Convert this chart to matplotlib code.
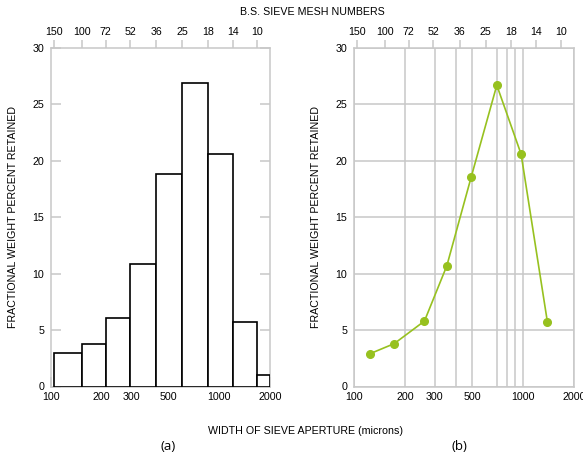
import numpy as np
import matplotlib.pyplot as plt

plt.rcParams['font.family'] = ['Liberation Sans', 'DejaVu Sans']

# sieve data
mesh_labels = ['150', '100', '72', '52', '36', '25', '18', '14', '10']
mesh_aperture = [104, 152, 211, 295, 422, 600, 853, 1200, 1676]
bin_edges = [104, 152, 211, 295, 422, 600, 853, 1200, 1676, 2000]
bar_heights = [3.0, 3.8, 6.1, 10.9, 18.8, 26.9, 20.6, 5.7, 1.0]
point_x = [124, 173, 261, 354, 494, 699, 973, 1393]
point_y = [2.9, 3.8, 5.8, 10.7, 18.6, 26.7, 20.6, 5.7]
x_ticks = [100, 200, 300, 400, 500, 700, 800, 900, 1000, 2000]
x_labels = ['100', '200', '300', '', '500', '', '', '', '1000', '2000']
y_ticks = [0, 5, 10, 15, 20, 25, 30]

gray = '#c8c8c8'
green = '#97c11f'
fs = 7.7

fig = plt.figure(figsize=(5.83, 4.57), dpi=100)
ax1 = fig.add_axes([51/583, 1-386.5/457, 219/583, 338.5/457])
ax2 = fig.add_axes([354/583, 1-386.5/457, 220/583, 338.5/457])


def setup(ax, grid):
    ax.set_xscale('log')
    ax.set_xlim(100, 2000)
    ax.set_ylim(0, 30)
    for s in ax.spines.values():
        s.set_color(gray)
        s.set_linewidth(1.1)
    ax.set_xticks(x_ticks)
    ax.set_xticklabels(x_labels)
    ax.xaxis.set_minor_locator(plt.NullLocator())
    ax.set_yticks(y_ticks)
    if grid:
        ax.tick_params(axis='x', length=0, labelsize=fs, pad=4)
        ax.tick_params(axis='y', length=0, labelsize=fs, pad=5)
        ax.grid(axis='both', color=gray, lw=1.1)
        ax.set_axisbelow(True)
    else:
        ax.tick_params(axis='x', direction='in', top=True, bottom=True,
                       length=7, color=gray, width=1.1, labelsize=fs, pad=4)
        ax.tick_params(axis='y', direction='in', left=True, right=True,
                       length=7, color=gray, width=1.1, labelsize=fs, pad=5)
    ax.set_ylabel('FRACTIONAL WEIGHT PERCENT RETAINED', fontsize=fs)
    ax.yaxis.set_label_coords(-0.15, 0.5)

    # top axis with mesh numbers
    top = ax.twiny()
    top.set_xscale('log')
    top.set_xlim(100, 2000)
    top.set_xticks(mesh_aperture)
    top.set_xticklabels(mesh_labels)
    top.xaxis.set_minor_locator(plt.NullLocator())
    top.tick_params(axis='x', direction='out', length=6, color=gray,
                    width=1.1, labelsize=fs, pad=2)
    for s in top.spines.values():
        s.set_visible(False)


setup(ax1, grid=False)
setup(ax2, grid=True)

ax1.bar(bin_edges[:-1], bar_heights, width=np.diff(bin_edges), align='edge',
        facecolor='white', edgecolor='black', linewidth=1.2, zorder=3)

ax2.plot(point_x, point_y, color=green, lw=1.2, marker='o', markersize=5.5,
         zorder=3, clip_on=False)

fig.text(312/583, 1-12/457, 'B.S. SIEVE MESH NUMBERS', ha='center',
         va='center', fontsize=fs)
fig.text(306/583, 1-431/457, 'WIDTH OF SIEVE APERTURE (microns)',
         ha='center', va='center', fontsize=fs)
fig.text(168/583, 1-447/457, '(a)', ha='center', va='center', fontsize=9.5,
         family='Open Sans')
fig.text(459/583, 1-447/457, '(b)', ha='center', va='center', fontsize=9.5,
         family='Open Sans')

fig.savefig('out.png', dpi=100)
